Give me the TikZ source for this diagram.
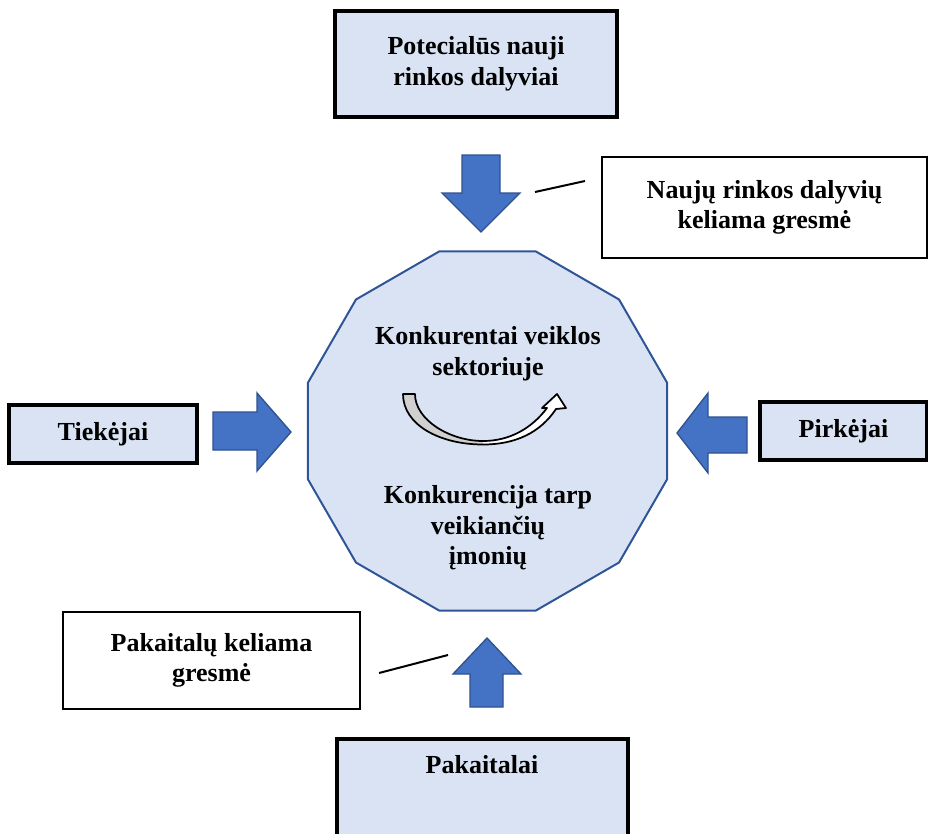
\documentclass[tikz,border=0pt]{standalone}
\usepackage{fontspec}
\setmainfont{Liberation Serif}
\usetikzlibrary{shapes.geometric}

\definecolor{paleblue}{HTML}{DAE3F3}
\definecolor{arrowblue}{HTML}{4472C4}
\definecolor{edgeblue}{HTML}{2F528F}
\definecolor{polyedge}{HTML}{2F5597}
\definecolor{tailgray}{HTML}{D0D0D0}

\tikzset{every picture/.style={line width=0.75pt},
  forcebox/.style={draw=black, line width=3pt, fill=paleblue, inner sep=0pt},
  threatbox/.style={draw=black, line width=2pt, fill=white, inner sep=0pt},
  blockarrow/.style={draw=edgeblue, line width=1pt, fill=arrowblue},
  lbl/.style={font=\bfseries\fontsize{19.5}{23}\selectfont, align=center},
  pointer/.style={line width=1.5pt}}

\begin{document}
\begin{tikzpicture}[x=0.75pt,y=0.75pt,yscale=-1,xscale=1]
\useasboundingbox (0,0) rectangle (928,833);
% centre
\node [draw=polyedge, line width=1.5pt, fill=paleblue, regular polygon, regular polygon sides=12, minimum size=279pt, inner sep=0pt] (sector) at (487.5,431) {};
\node [lbl] (rivals) at (488,354) {Konkurentai veiklos\\sektoriuje};
\node [lbl] (rivalry) at (488,528) {Konkurencija tarp\\veikiančių\\įmonių};
% curved arrow
\fill [tailgray] (403,394) -- (415,394) .. controls (415,420) and (450,441) .. (483,441) -- (483,444) .. controls (440,444) and (403,425) .. (403,394) -- cycle;
\fill [white] (483,441) .. controls (510,441) and (532,428) .. (547,408) -- (542,408) -- (557,394) -- (566,408) -- (556,409) .. controls (540,433) and (515,444.5) .. (483,444.5) -- cycle;
\draw [line width=1.3pt, line join=round] (403,394) .. controls (403,425) and (440,444.5) .. (483,444.5) .. controls (515,444.5) and (540,433) .. (556,409) -- (566,408) -- (557,394) -- (542,408) -- (547,408) .. controls (532,428) and (510,441) .. (483,441) .. controls (450,441) and (415,420) .. (415,394) -- cycle;
% forces
\node [forcebox, lbl, minimum width=211.5pt, minimum height=79.5pt] (entrants) at (476,64) {Potecialūs nauji\\rinkos dalyviai};
\node [forcebox, lbl, minimum width=141pt, minimum height=43.5pt] (suppliers) at (103,434) {Tiekėjai};
\node [forcebox, lbl, minimum width=125.25pt, minimum height=43.5pt] (buyers) at (843.5,431) {Pirkėjai};
\node [forcebox, minimum width=218.25pt, minimum height=82.5pt, anchor=north] (substitutes) at (482.5,737) {};
\node [lbl] (substitutestext) at (482,765) {Pakaitalai};
% threats
\node [threatbox, lbl, minimum width=243.75pt, minimum height=75.75pt] (entrythreat) at (764.5,207.5) {Naujų rinkos dalyvių\\keliama gresmė};
\node [threatbox, lbl, minimum width=222.75pt, minimum height=72.75pt] (substthreat) at (211.5,660.5) {Pakaitalų keliama\\gresmė};
% block arrows
\draw [blockarrow] (462,155) -- (500,155) -- (500,193) -- (520,193) -- (481,232) -- (442,193) -- (462,193) -- cycle;
\draw [blockarrow] (213,412) -- (257,412) -- (257,393) -- (291,432) -- (257,471) -- (257,450) -- (213,450) -- cycle;
\draw [blockarrow] (747,417) -- (708,417) -- (708,393) -- (677,433) -- (708,473) -- (708,453) -- (747,453) -- cycle;
\draw [blockarrow] (470,707) -- (470,674) -- (453,674) -- (487,638) -- (521,674) -- (503,674) -- (503,707) -- cycle;
% pointer lines
\coordinate (entryA) at (535,192);
\coordinate (entryB) at (585,181);
\coordinate (substA) at (379,673);
\coordinate (substB) at (448,655);
\draw [pointer] (entryA) -- (entryB);
\draw [pointer] (substA) -- (substB);
\end{tikzpicture}
\end{document}
